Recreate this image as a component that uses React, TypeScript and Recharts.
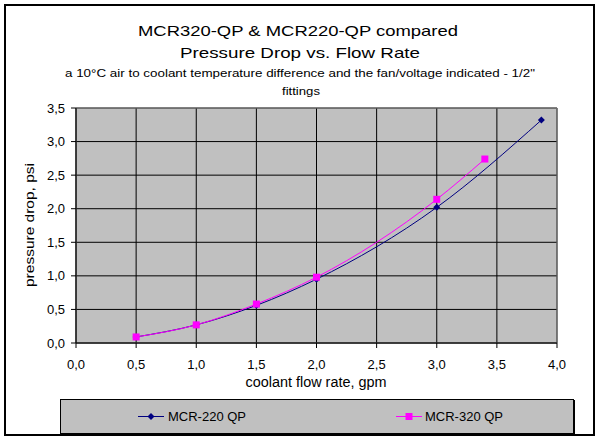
import React from "react";
import {
  LineChart,
  Line,
  XAxis,
  YAxis,
  CartesianGrid,
  ReferenceArea,
} from "recharts";

const mcr220X = [0.5, 1.0, 1.5, 2.0, 3.0, 3.87];
const mcr220Y = [0.09, 0.27, 0.56, 0.95, 2.02, 3.32];
const mcr320X = [0.5, 1.0, 1.5, 2.0, 3.0, 3.4];
const mcr320Y = [0.09, 0.27, 0.58, 0.98, 2.14, 2.74];
const xTicks = [0, 0.5, 1, 1.5, 2, 2.5, 3, 3.5, 4];
const yTicks = [0, 0.5, 1, 1.5, 2, 2.5, 3, 3.5];

const titleLine1 = "MCR320-QP & MCR220-QP compared";
const titleLine2 = "Pressure Drop vs. Flow Rate";
const subtitleLine1 =
  "a 10°C air to coolant temperature difference and the fan/voltage indicated - 1/2\"";
const subtitleLine2 = "fittings";
const xLabel = "coolant flow rate, gpm";
const yLabel = "pressure drop, psi";
const name220 = "MCR-220 QP";
const name320 = "MCR-320 QP";

const data220 = mcr220X.map((x, i) => ({ x, y: mcr220Y[i] }));
const data320 = mcr320X.map((x, i) => ({ x, y: mcr320Y[i] }));

const FONT = "'Liberation Sans', Arial, sans-serif";
const fmt = (v: number) => v.toFixed(1).replace(".", ",");

const Diamond = (props: any) => {
  const { cx, cy } = props;
  if (cx == null || cy == null) return null;
  const r = 3.5;
  return (
    <path
      d={`M${cx},${cy - r}L${cx + r},${cy}L${cx},${cy + r}L${cx - r},${cy}Z`}
      fill="#000080"
      stroke="none"
    />
  );
};

const Square = (props: any) => {
  const { cx, cy } = props;
  if (cx == null || cy == null) return null;
  const r = 3.5;
  return <rect x={cx - r} y={cy - r} width={2 * r} height={2 * r} fill="#FF00FF" />;
};

export default function App() {
  return (
    <div
      style={{
        position: "absolute",
        left: 0,
        top: 0,
        width: 600,
        height: 440,
        background: "#fff",
        fontFamily: FONT,
      }}
    >
      <div style={{ position: "absolute", left: 0, top: 0 }}>
        <LineChart
          width={600}
          height={440}
          margin={{ top: 108, right: 43, bottom: 0, left: 0 }}
        >
          <CartesianGrid
            stroke="#000"
            strokeWidth={1}
            fill="#C0C0C0"
            fillOpacity={1}
          />
          <XAxis
            type="number"
            dataKey="x"
            domain={[0, 4]}
            ticks={xTicks}
            tickFormatter={fmt}
            stroke="#000"
            tick={{ fill: "#000", fontSize: 13, fontFamily: FONT }}
            tickSize={5}
            tickMargin={12}
            height={97}
            allowDataOverflow
          />
          <YAxis
            type="number"
            dataKey="y"
            domain={[0, 3.5]}
            ticks={yTicks}
            tickFormatter={fmt}
            stroke="#000"
            tick={{ fill: "#000", fontSize: 13, fontFamily: FONT }}
            tickSize={5}
            tickMargin={6}
            width={76}
            allowDataOverflow
          />
          <ReferenceArea
            x1={0}
            x2={4}
            y1={0}
            y2={3.5}
            fill="none"
            stroke="#808080"
            ifOverflow="visible"
          />
          <Line
            data={data220}
            dataKey="y"
            name={name220}
            type="monotone"
            stroke="#000080"
            strokeWidth={1}
            dot={<Diamond />}
            activeDot={false}
            isAnimationActive={false}
          />
          <Line
            data={data320}
            dataKey="y"
            name={name320}
            type="monotone"
            stroke="#FF00FF"
            strokeWidth={1}
            dot={<Square />}
            activeDot={false}
            isAnimationActive={false}
          />
        </LineChart>
      </div>
      <svg
        width={600}
        height={440}
        style={{ position: "absolute", left: 0, top: 0, pointerEvents: "none" }}
        fontFamily={FONT}
      >
        <rect x={5} y={5} width={589} height={430} fill="none" stroke="#000" strokeWidth={2} />
        <text
          x={298}
          y={36}
          fontSize={15}
          textAnchor="middle"
          textLength={320}
          lengthAdjust="spacingAndGlyphs"
          fill="#000"
        >
          {titleLine1}
        </text>
        <text
          x={300}
          y={58}
          fontSize={15}
          textAnchor="middle"
          textLength={240}
          lengthAdjust="spacingAndGlyphs"
          fill="#000"
        >
          {titleLine2}
        </text>
        <text
          x={300}
          y={77}
          fontSize={11.5}
          textAnchor="middle"
          textLength={470}
          lengthAdjust="spacingAndGlyphs"
          fill="#000"
        >
          {subtitleLine1}
        </text>
        <text
          x={301}
          y={95}
          fontSize={11.5}
          textAnchor="middle"
          textLength={38}
          lengthAdjust="spacingAndGlyphs"
          fill="#000"
        >
          {subtitleLine2}
        </text>
        <text
          x={316}
          y={387}
          fontSize={14}
          textAnchor="middle"
          textLength={141}
          lengthAdjust="spacingAndGlyphs"
          fill="#000"
        >
          {xLabel}
        </text>
        <text
          x={34}
          y={225}
          fontSize={13}
          textAnchor="middle"
          textLength={124}
          lengthAdjust="spacingAndGlyphs"
          transform="rotate(-90 34 225)"
          fill="#000"
        >
          {yLabel}
        </text>
        <rect x={60.5} y={399.5} width={513} height={34} fill="#C0C0C0" stroke="#000" strokeWidth={1} />
        <line x1={61} x2={575} y1={434} y2={434} stroke="#000" strokeWidth={2} />
        <line x1={574} x2={574} y1={400} y2={435} stroke="#000" strokeWidth={2} />
        <line x1={138} x2={164} y1={416.5} y2={416.5} stroke="#000080" />
        <path d="M151,413L154.5,416.5L151,420L147.5,416.5Z" fill="#000080" />
        <text x={168} y={421} fontSize={13} fill="#000">
          {name220}
        </text>
        <line x1={396} x2={422} y1={416.5} y2={416.5} stroke="#FF00FF" />
        <rect x={405.5} y={413} width={7} height={7} fill="#FF00FF" />
        <text x={425} y={421} fontSize={13} fill="#000">
          {name320}
        </text>
      </svg>
    </div>
  );
}
